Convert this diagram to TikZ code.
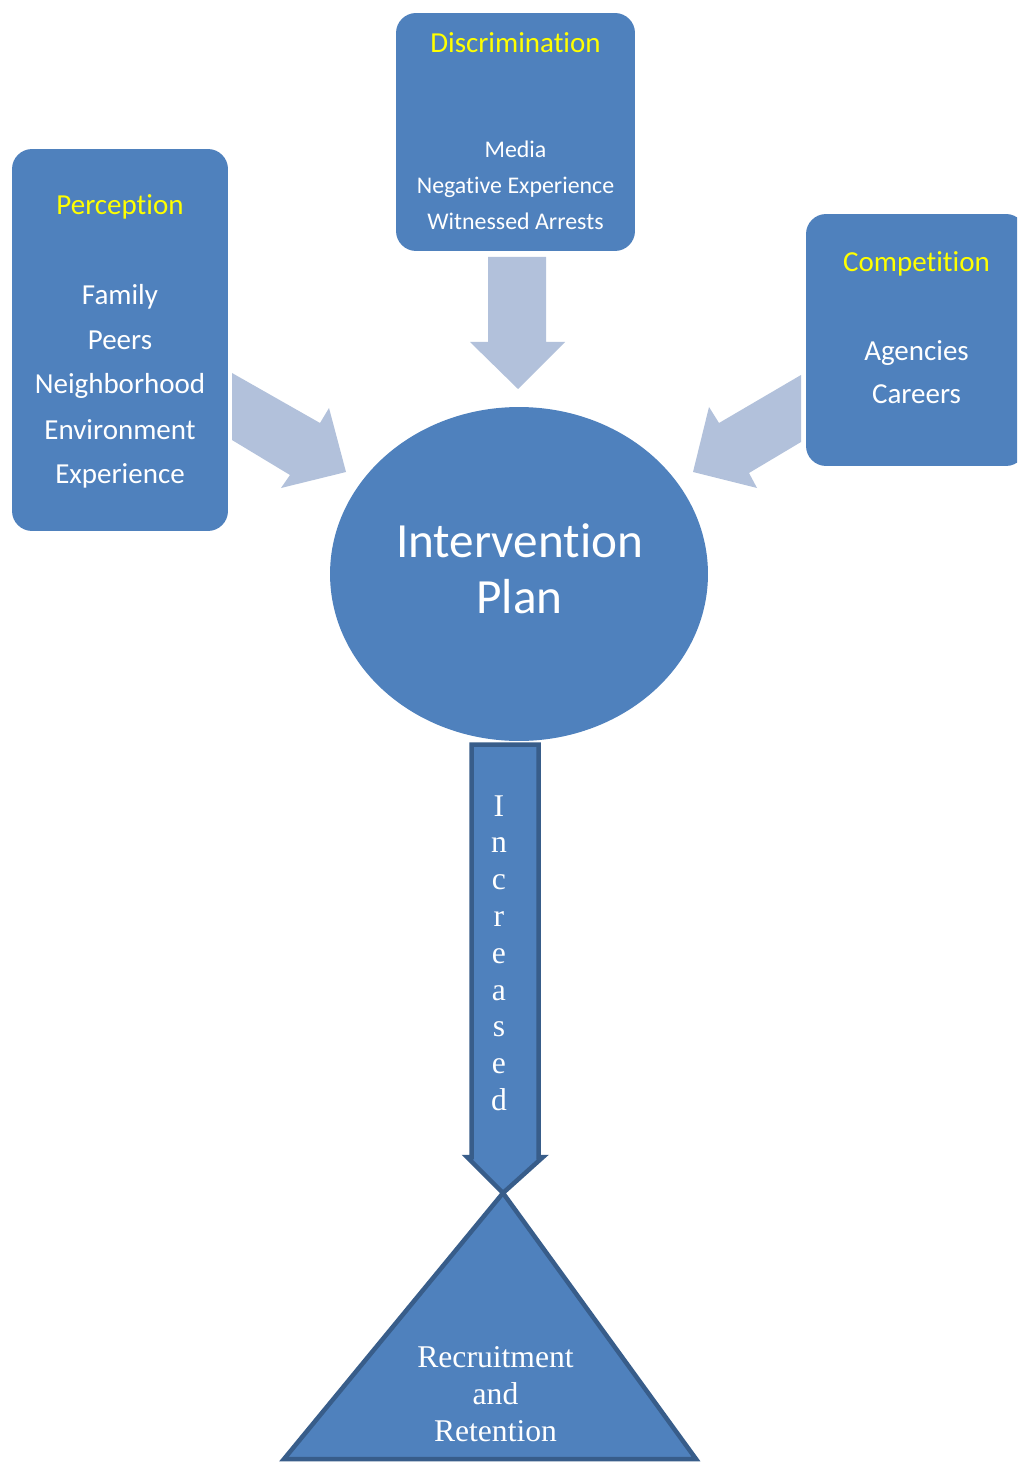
\documentclass[tikz,border=0pt]{standalone}
\usepackage{fontspec}
\setmainfont{Carlito}[Ligatures={NoCommon,NoContextual}, Contextuals=NoAlternate]
\newfontfamily\serifface{Liberation Serif}
\usetikzlibrary{shapes.geometric}

\definecolor{boxblue}{RGB}{79,129,189}
\definecolor{edgeblue}{RGB}{56,93,138}
\definecolor{paleblue}{RGB}{178,193,219}
\definecolor{titleyellow}{RGB}{255,255,0}

\tikzset{
  catbox/.style={fill=boxblue, rounded corners=0.4cm, inner sep=0pt},
  title/.style={text=titleyellow, anchor=base, inner sep=0pt, font=\fontsize{16.5}{20}\selectfont},
  item/.style={text=white, anchor=base, inner sep=0pt, font=\fontsize{16.5}{20}\selectfont},
  smallitem/.style={item, font=\fontsize{13.6}{16}\selectfont},
  bigtext/.style={text=white, anchor=base, inner sep=0pt, font=\fontsize{28}{33}\selectfont},
  serifitem/.style={text=white, anchor=base, inner sep=0pt, font=\serifface\fontsize{18}{21}\selectfont},
  flowshape/.style={fill=boxblue, draw=edgeblue, line width=0.09cm},
  influence/.style={fill=paleblue}
}

\begin{document}
\begin{tikzpicture}[x=0.02cm, y=-0.02cm]
  \clip (0,0) rectangle (1017,1462);
  \fill[white] (0,0) rectangle (1017,1462);

  % the three groups of factors
  \node[catbox, minimum width=4.32cm, minimum height=7.64cm] (perception) at (120,340) {};
  \node[catbox, minimum width=4.78cm, minimum height=4.76cm] (discrimination) at (515.5,132) {};
  \node[catbox, minimum width=4.40cm, minimum height=5.04cm] (competition) at (916,340) {};

  \node[title] (perception-title) at (120,215) {Perception};
  \node[title] (discrimination-title) at (515.5,53) {Discrimination};
  \node[title] (competition-title) at (916.5,272) {Competition};

  \foreach \y/\txt in {305/Family, 350/Peers, 394/Neighborhood, 439/Environment, 483/Experience}
    \node[item] (perception-\y) at (120,\y) {\txt};
  \foreach \y/\txt in {158/Media, 194/Negative Experience, 230/Witnessed Arrests}
    \node[smallitem] (discrimination-\y) at (515.5,\y) {\txt};
  \foreach \y/\txt in {361/Agencies, 404/Careers}
    \node[item] (competition-\y) at (916.5,\y) {\txt};

  % pale arrows into the plan
  \fill[influence] (232,373) -- (320,423) -- (329,408) -- (346,472) -- (281,488) -- (290,475) -- (232,440) -- cycle;
  \fill[influence] (488,257) -- (546,257) -- (546,342) -- (565,342) -- (518,389) -- (470,342) -- (488,342) -- cycle;
  \fill[influence] (801,375) -- (719,423) -- (709,407) -- (693,472) -- (757,488) -- (749,473) -- (801,442) -- cycle;

  % the plan
  \node[ellipse, fill=boxblue, inner sep=0pt, minimum width=7.56cm, minimum height=6.68cm] (plan) at (519,574) {};
  \node[bigtext] (plan-1) at (519.5,557) {Intervention};
  \node[bigtext] (plan-2) at (519.5,613) {Plan};

  % down arrow and the outcome
  \draw[flowshape] (471.5,744.5) -- (471.5,1157) -- (467,1157) -- (503,1193)
    -- (543,1157) -- (538.5,1157) -- (538.5,744.5) -- cycle;
  \foreach \l [count=\i from 0] in {I,n,c,r,e,a,s,e,d}
    \node[serifitem] (increased-\i) at (499,816+36.8*\i) {\l};

  \draw[flowshape] (503,1193) -- (696,1459) -- (284,1459) -- cycle;
  \foreach \y/\txt in {1367/Recruitment, 1404/and, 1441/Retention}
    \node[serifitem] (outcome-\y) at (495.5,\y) {\txt};
\end{tikzpicture}
\end{document}
